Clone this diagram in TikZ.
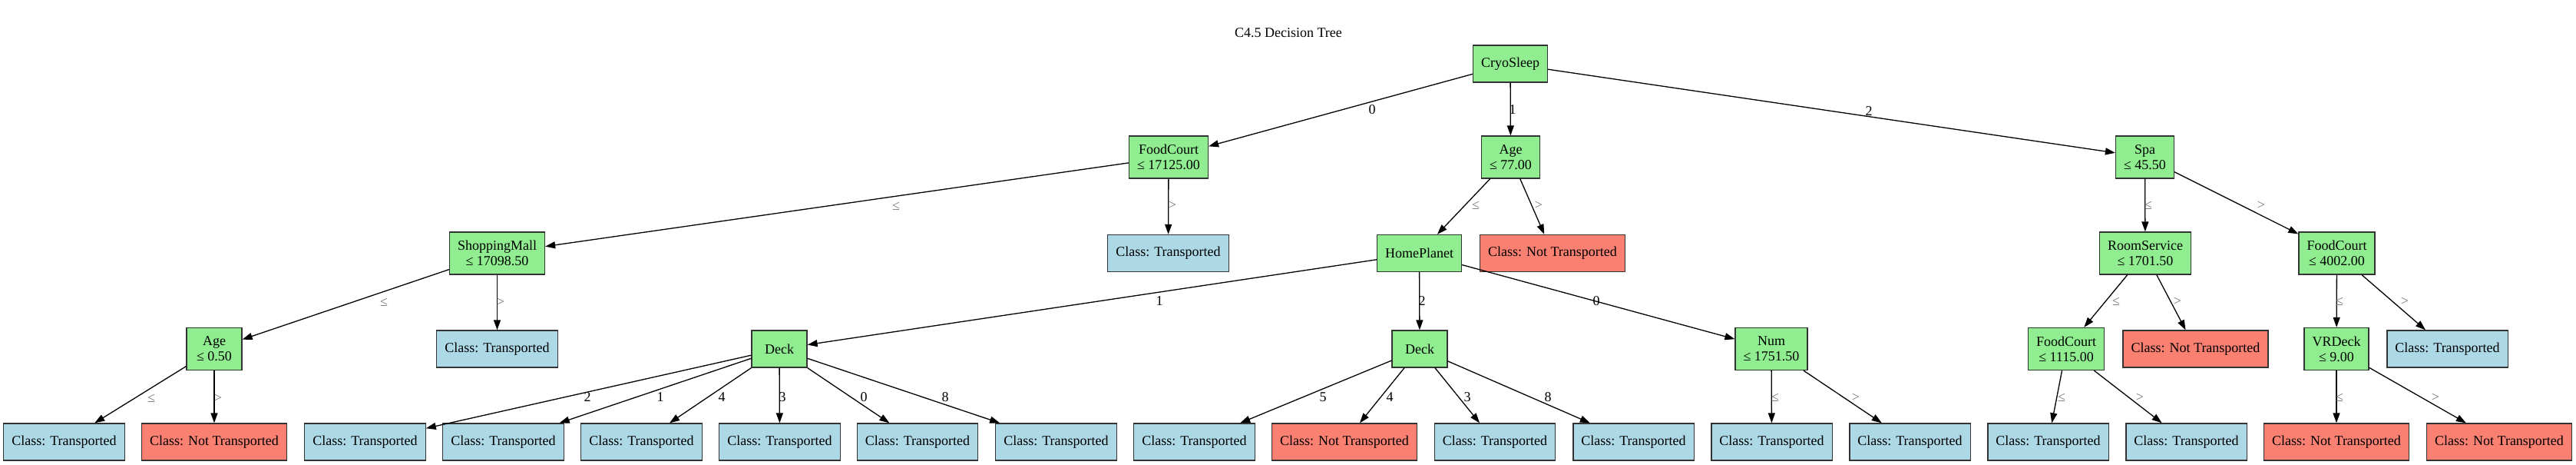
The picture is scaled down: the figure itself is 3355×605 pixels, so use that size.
\documentclass[tikz,border=0pt]{standalone}
\usepackage{fontspec}
\setmainfont{Liberation Serif}
\usetikzlibrary{arrows.meta}
\definecolor{dgreen}{HTML}{90EE90}
\definecolor{lblue}{HTML}{ADD8E6}
\definecolor{salmon}{HTML}{FA8072}
\definecolor{bord}{HTML}{333333}
\begin{document}
\begin{tikzpicture}[x=1pt,y=-1pt,
  base/.style={draw=bord,line width=1.3pt,rectangle,inner xsep=10.5pt,inner ysep=0pt,
    minimum width=72pt,minimum height=48pt,align=center,
    font=\fontsize{18}{20}\selectfont},
  dec/.style={base,fill=dgreen},
  decc/.style={base,fill=dgreen,minimum height=55pt},
  leafT/.style={base,fill=lblue},
  leafN/.style={base,fill=salmon},
  edge/.style={line width=1.3pt,-{Triangle[length=13pt,width=9pt]}},
  elab/.style={font=\fontsize{18}{20}\selectfont,inner sep=0pt},
  glab/.style={elab,text=black!55}]
\useasboundingbox (0,0) rectangle (3355,605);
\node[elab] (title) at (1678,43) {C4.5 Decision Tree};
% row 0
\node[dec] (cryo) at (1967,83) {CryoSleep};
% row 1
\node[decc] (fc1) at (1522,204.5) {FoodCourt\\≤ 17125.00};
\node[decc] (age1) at (1967.5,204.5) {Age\\≤ 77.00};
\node[decc] (spa) at (2793.5,204.5) {Spa\\≤ 45.50};
% row 2
\node[decc] (sm) at (647.5,329.5) {ShoppingMall\\≤ 17098.50};
\node[leafT] (ct1) at (1521.5,329.5) {Class: Transported};
\node[dec] (hp) at (1848.5,329.5) {HomePlanet};
\node[leafN] (nt1) at (2022,329.5) {Class: Not Transported};
\node[decc] (rs) at (2794,329.5) {RoomService\\≤ 1701.50};
\node[decc] (fc2) at (3043.5,329.5) {FoodCourt\\≤ 4002.00};
% row 3
\node[decc] (age2) at (279,454) {Age\\≤ 0.50};
\node[leafT] (ct2) at (647.5,454) {Class: Transported};
\node[dec] (dk1) at (1015,454) {Deck};
\node[dec] (dk2) at (1849,454) {Deck};
\node[decc] (num) at (2307,454) {Num\\≤ 1751.50};
\node[decc] (fc3) at (2691,454) {FoodCourt\\≤ 1115.00};
\node[leafN] (nt2) at (2859.5,454) {Class: Not Transported};
\node[decc] (vr) at (3043,454) {VRDeck\\≤ 9.00};
\node[leafT] (ct3) at (3187.5,454) {Class: Transported};
% row 4
\node[leafT] (l1) at (83.5,575) {Class: Transported};
\node[leafN] (l2) at (279,575) {Class: Not Transported};
\node[leafT] (l3) at (475.5,575) {Class: Transported};
\node[leafT] (l4) at (655.5,575) {Class: Transported};
\node[leafT] (l5) at (835.5,575) {Class: Transported};
\node[leafT] (l6) at (1015.5,575) {Class: Transported};
\node[leafT] (l7) at (1195,575) {Class: Transported};
\node[leafT] (l8) at (1375.5,575) {Class: Transported};
\node[leafT] (l9) at (1555.5,575) {Class: Transported};
\node[leafN] (l10) at (1751,575) {Class: Not Transported};
\node[leafT] (l11) at (1947,575) {Class: Transported};
\node[leafT] (l12) at (2127.5,575) {Class: Transported};
\node[leafT] (l13) at (2307.5,575) {Class: Transported};
\node[leafT] (l14) at (2487.5,575) {Class: Transported};
\node[leafT] (l15) at (2667.5,575) {Class: Transported};
\node[leafT] (l16) at (2847.5,575) {Class: Transported};
\node[leafN] (l17) at (3043,575) {Class: Not Transported};
\node[leafN] (l18) at (3255,575) {Class: Not Transported};
% edges
\draw[edge] (cryo) -- (fc1);
\draw[edge] (cryo) -- (age1);
\draw[edge] (cryo) -- (spa);
\draw[edge] (fc1) -- (sm);
\draw[edge] (fc1) -- (ct1);
\draw[edge] (age1) -- (hp);
\draw[edge] (age1) -- (nt1);
\draw[edge] (spa) -- (rs);
\draw[edge] (spa) -- (fc2);
\draw[edge] (sm) -- (age2);
\draw[edge] (sm) -- (ct2);
\draw[edge] (hp) -- (dk1);
\draw[edge] (hp) -- (dk2);
\draw[edge] (hp) -- (num);
\draw[edge] (rs) -- (fc3);
\draw[edge] (rs) -- (nt2);
\draw[edge] (fc2) -- (vr);
\draw[edge] (fc2) -- (ct3);
\draw[edge] (age2) -- (l1);
\draw[edge] (age2) -- (l2);
\draw[edge] (dk1) -- (l3);
\draw[edge] (dk1) -- (l4);
\draw[edge] (dk1) -- (l5);
\draw[edge] (dk1) -- (l6);
\draw[edge] (dk1) -- (l7);
\draw[edge] (dk1) -- (l8);
\draw[edge] (dk2) -- (l9);
\draw[edge] (dk2) -- (l10);
\draw[edge] (dk2) -- (l11);
\draw[edge] (dk2) -- (l12);
\draw[edge] (num) -- (l13);
\draw[edge] (num) -- (l14);
\draw[edge] (fc3) -- (l15);
\draw[edge] (fc3) -- (l16);
\draw[edge] (vr) -- (l17);
\draw[edge] (vr) -- (l18);
% edge labels
\node[elab] (e1) at (1787,143) {0};
\node[elab] (e2) at (1970,143) {1};
\node[elab] (e3) at (2434,145) {2};
\node[glab] (e4) at (1167,268) {≤};
\node[glab] (e5) at (1527,267) {>};
\node[glab] (e6) at (1922,267) {≤};
\node[glab] (e7) at (2004,267) {>};
\node[glab] (e8) at (2798,267) {≤};
\node[glab] (e9) at (2945,267) {>};
\node[glab] (e10) at (500,393) {≤};
\node[glab] (e11) at (652,393) {>};
\node[elab] (e12) at (1510,392) {1};
\node[elab] (e13) at (1852,392) {2};
\node[elab] (e14) at (2079,392) {0};
\node[glab] (e15) at (2756,392) {≤};
\node[glab] (e16) at (2836,392) {>};
\node[glab] (e17) at (3047,392) {≤};
\node[glab] (e18) at (3132,392) {>};
\node[glab] (e19) at (197,518) {≤};
\node[glab] (e20) at (284,518) {>};
\node[elab] (e21) at (765,517) {2};
\node[elab] (e22) at (860,517) {1};
\node[elab] (e23) at (940,517) {4};
\node[elab] (e24) at (1019,517) {3};
\node[elab] (e25) at (1125,517) {0};
\node[elab] (e26) at (1231,517) {8};
\node[elab] (e27) at (1723,517) {5};
\node[elab] (e28) at (1810,517) {4};
\node[elab] (e29) at (1911,517) {3};
\node[elab] (e30) at (2016,517) {8};
\node[glab] (e31) at (2312,517) {≤};
\node[glab] (e32) at (2417,517) {>};
\node[glab] (e33) at (2685,517) {≤};
\node[glab] (e34) at (2787,517) {>};
\node[glab] (e35) at (3047,517) {≤};
\node[glab] (e36) at (3172,517) {>};
\end{tikzpicture}
\end{document}
